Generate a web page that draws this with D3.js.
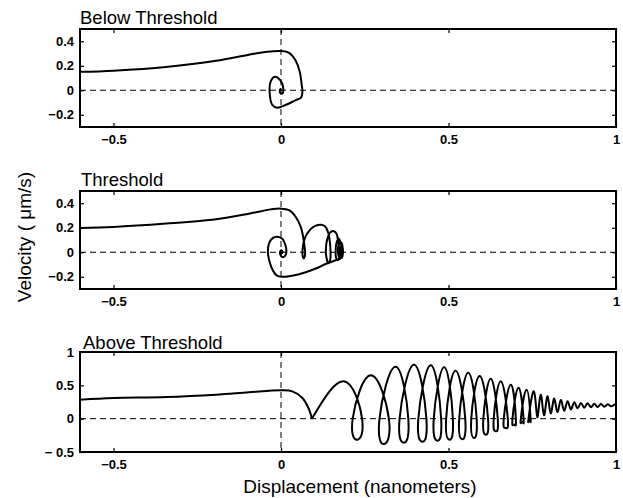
<!DOCTYPE html>
<html>
<head>
<meta charset="utf-8">
<script src="https://cdn.jsdelivr.net/npm/d3@7"></script>
<style>
	html, body { margin: 0; padding: 0; background: #fff; }
	svg { display: block; font-family: 'Liberation Sans', Arial, Helvetica, sans-serif; }
</style>
</head>
<body>
<svg id="phase-fig" width="623" height="498"></svg>
<script>
// Phase-plane trajectories (velocity vs displacement) below, at and above threshold.

// --- data: [displacement (nm), velocity (um/s)] ---
const belowPath = [
	[-0.6, 0.15], [-0.5, 0.16], [-0.343, 0.19], [-0.194, 0.24], [-0.096, 0.29], [-0.04, 0.315],
	[0, 0.32], [0.024, 0.305], [0.044, 0.24], [0.056, 0.15], [0.062, 0.04], [0.064, -0.01],
	[0.06, -0.06], [0.044, -0.08], [0.024, -0.108], [0.005, -0.13], [-0.011, -0.143],
	[-0.026, -0.12], [-0.034, -0.01], [-0.031, 0.07], [-0.018, 0.11], [-0.003, 0.085],
	[0.006, 0.03], [0.004, -0.025], [-0.003, -0.02], [-0.002, 0.01], [0.001, 0.005]
];

const thresholdUpper = [
	[-0.6, 0.198], [-0.5, 0.206], [-0.343, 0.234], [-0.194, 0.27], [-0.096, 0.315], [-0.03, 0.35],
	[0, 0.356], [0.024, 0.343], [0.044, 0.288], [0.059, 0.207], [0.067, 0.11], [0.071, 0.03],
	[0.072, 0], [0.071, -0.035], [0.068, -0.05], [0.065, -0.035], [0.064, 0], [0.066, 0.06],
	[0.072, 0.12], [0.08, 0.16], [0.093, 0.2], [0.11, 0.222], [0.12, 0.225], [0.132, 0.21],
	[0.141, 0.16], [0.146, 0.08], [0.148, 0], [0.147, -0.06], [0.142, -0.09], [0.137, -0.06],
	[0.134, 0], [0.136, 0.08], [0.142, 0.14], [0.15, 0.168], [0.158, 0.172], [0.166, 0.15],
	[0.171, 0.08], [0.174, 0], [0.173, -0.05], [0.169, -0.065], [0.164, -0.04], [0.163, 0],
	[0.166, 0.08], [0.172, 0.11], [0.178, 0.08], [0.181, 0], [0.176, -0.055], [0.17, 0],
	[0.174, 0.07], [0.18, 0.08], [0.184, 0.04], [0.185, 0], [0.182, -0.045], [0.178, -0.04],
	[0.176, 0], [0.179, 0.05], [0.183, 0.04], [0.184, 0], [0.181, -0.03], [0.179, 0]
];

const thresholdLower = [
	[0.175, -0.055], [0.138, -0.09], [0.104, -0.133], [0.054, -0.18], [0.02, -0.198], [0.004, -0.2],
	[-0.012, -0.19], [-0.024, -0.15], [-0.034, -0.08], [-0.039, 0], [-0.036, 0.07], [-0.025, 0.115],
	[-0.011, 0.126], [0.004, 0.11], [0.013, 0.06], [0.016, 0], [0.012, -0.03], [0.004, -0.04],
	[-0.002, -0.02], [-0.003, 0], [0, 0.015], [0.004, 0.01], [0.005, 0], [0.002, -0.008], [0, 0]
];

// above threshold: smooth approach down to the cusp, then a train of arches and loops
const aboveApproach = [
	[-0.6, 0.285], [-0.5, 0.31], [-0.343, 0.325], [-0.194, 0.36], [-0.096, 0.395], [0, 0.425],
	[0.034, 0.41], [0.064, 0.31], [0.084, 0.135], [0.092, 0]
];
const abovePeakX = [0.188, 0.268, 0.342, 0.397, 0.447, 0.487, 0.521, 0.559, 0.593, 0.626, 0.656, 0.686,
	0.709, 0.733, 0.755, 0.775, 0.795, 0.815, 0.835, 0.855, 0.875, 0.895, 0.915, 0.935, 0.955, 0.975, 0.995];
const abovePeakV = [0.56, 0.65, 0.78, 0.81, 0.80, 0.77, 0.72, 0.69, 0.64, 0.60, 0.56, 0.51,
	0.465, 0.435, 0.41, 0.36, 0.335, 0.30, 0.28, 0.26, 0.245, 0.235, 0.23, 0.225, 0.22, 0.215, 0.21];
const aboveTroughX = [0.228, 0.308, 0.367, 0.422, 0.467, 0.503, 0.541, 0.576, 0.611, 0.641, 0.671, 0.696,
	0.72, 0.742, 0.765, 0.785, 0.805, 0.825, 0.845, 0.865, 0.885, 0.905, 0.925, 0.945, 0.965, 0.985];
const aboveTroughV = [-0.315, -0.38, -0.36, -0.345, -0.33, -0.315, -0.31, -0.29, -0.24, -0.19, -0.14, -0.09,
	-0.045, -0.01, 0.02, 0.05, 0.08, 0.10, 0.12, 0.14, 0.155, 0.165, 0.17, 0.175, 0.18, 0.185];
const aboveLoopHalfWidth = [0.014, 0.014, 0.013, 0.012, 0.011, 0.010, 0.009, 0.008, 0.007, 0.006, 0.006, 0.005,
	0.004, 0.003];
const aboveEnd = [1.0, 0.205];

const xTicks = [-0.5, 0, 0.5, 1];
const xTickLabels = ['\u22120.5', '0', '0.5', '1'];
const smallVTicks = [-0.2, 0, 0.2, 0.4];
const smallVLabels = ['\u22120.2', '0', '0.2', '0.4'];
const bigVTicks = [-0.5, 0, 0.5, 1];
const bigVLabels = ['\u2212 0.5', '0', '0.5', '1'];
const titles = ['Below Threshold', 'Threshold', 'Above Threshold'];

(function () {
	const svg = d3.select('#phase-fig');
	const left = 80, right = 616;

	const x = d3.scaleLinear().domain([-0.6, 1]).range([left, right]);
	const catmull = d3.curveCatmullRom.alpha(0.5);

	// arches + loops; a loop is only drawn where velocity goes negative
	const abovePoints = [aboveApproach[aboveApproach.length - 1]];
	abovePeakX.forEach((px, i) => {
		abovePoints.push([px, abovePeakV[i]]);
		if (i >= aboveTroughX.length) return;
		const cx = aboveTroughX[i], cv = aboveTroughV[i];
		if (cv < 0) {
			const w = aboveLoopHalfWidth[i];
			abovePoints.push([cx + w, 0], [cx, cv], [cx - w, 0]);
		} else {
			abovePoints.push([cx, cv]);
		}
	});
	abovePoints.push(aboveEnd);

	const panels = [
		{ top: 29, bottom: 127, domain: [-0.3, 0.5], ticks: smallVTicks, labels: smallVLabels,
			title: titles[0], titleX: 80, titleY: 24,
			series: [{ pts: belowPath, curve: catmull }] },
		{ top: 191, bottom: 289, domain: [-0.3, 0.5], ticks: smallVTicks, labels: smallVLabels,
			title: titles[1], titleX: 81, titleY: 186,
			series: [{ pts: thresholdUpper, curve: catmull }, { pts: thresholdLower, curve: catmull }] },
		{ top: 352, bottom: 452, domain: [-0.5, 1], ticks: bigVTicks, labels: bigVLabels,
			title: titles[2], titleX: 83, titleY: 349,
			series: [{ pts: aboveApproach, curve: catmull }, { pts: abovePoints, curve: d3.curveNatural }] }
	];

	panels.forEach((p, k) => {
		const y = d3.scaleLinear().domain(p.domain).range([p.bottom, p.top]);
		const g = svg.append('g');
		const clipId = 'clip' + k;
		g.append('clipPath').attr('id', clipId).append('rect')
			.attr('x', left).attr('y', p.top).attr('width', right - left).attr('height', p.bottom - p.top);

		// dashed zero lines
		g.append('line').attr('x1', left).attr('x2', right).attr('y1', y(0)).attr('y2', y(0))
			.attr('stroke', '#000').attr('stroke-width', 1).attr('stroke-dasharray', '6,4');
		g.append('line').attr('x1', x(0)).attr('x2', x(0)).attr('y1', p.top).attr('y2', p.bottom)
			.attr('stroke', '#000').attr('stroke-width', 1).attr('stroke-dasharray', '6,4');

		// trajectories
		p.series.forEach(s => {
			const line = d3.line().x(d => x(d[0])).y(d => y(d[1])).curve(s.curve);
			g.append('path').attr('d', line(s.pts)).attr('clip-path', 'url(#' + clipId + ')')
				.attr('fill', 'none').attr('stroke', '#000').attr('stroke-width', 2)
				.attr('stroke-linejoin', 'round');
		});

		// inward ticks on all four sides
		const tidy = ax => ax.call(a => a.select('.domain').remove())
			.call(a => a.selectAll('line').attr('stroke', '#000').attr('stroke-width', 1.2));
		g.append('g').attr('transform', 'translate(0,' + p.bottom + ')')
			.call(d3.axisBottom(x).tickValues(xTicks).tickSize(-4).tickPadding(8)
				.tickFormat((d, i) => xTickLabels[i]))
			.call(tidy)
			.call(a => a.selectAll('text').attr('font-size', 13).attr('font-weight', 'bold')
				.attr('fill', '#000').attr('font-family', null));
		g.append('g').attr('transform', 'translate(0,' + p.top + ')')
			.call(d3.axisTop(x).tickValues(xTicks).tickSize(-4).tickFormat(''))
			.call(tidy);
		g.append('g').attr('transform', 'translate(' + left + ',0)')
			.call(d3.axisLeft(y).tickValues(p.ticks).tickSize(-4).tickPadding(6)
				.tickFormat((d, i) => p.labels[i]))
			.call(tidy)
			.call(a => a.selectAll('text').attr('font-size', 13).attr('font-weight', 'bold')
				.attr('fill', '#000').attr('font-family', null));
		g.append('g').attr('transform', 'translate(' + right + ',0)')
			.call(d3.axisRight(y).tickValues(p.ticks).tickSize(-4).tickFormat(''))
			.call(tidy);

		// box
		g.append('rect').attr('x', left).attr('y', p.top)
			.attr('width', right - left).attr('height', p.bottom - p.top)
			.attr('fill', 'none').attr('stroke', '#000').attr('stroke-width', 2);

		g.append('text').attr('x', p.titleX).attr('y', p.titleY)
			.attr('font-size', 18.5).attr('fill', '#000').text(p.title);
	});

	svg.append('text')
		.attr('x', 360).attr('y', 493).attr('text-anchor', 'middle')
		.attr('font-size', 19).attr('fill', '#000')
		.text('Displacement (nanometers)');
	svg.append('text')
		.attr('transform', 'translate(31,237) rotate(-90)').attr('text-anchor', 'middle')
		.attr('font-size', 19).attr('fill', '#000')
		.text('Velocity ( \u03bcm/s)');
})();
</script>
</body>
</html>
